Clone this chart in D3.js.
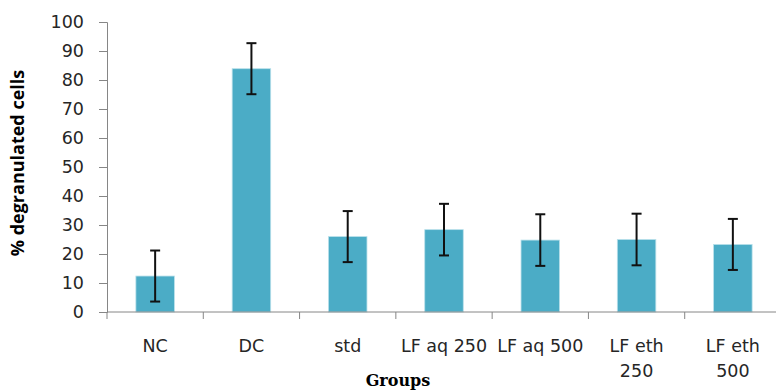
<!DOCTYPE html>
<html>
<head>
<meta charset="utf-8">
<script src="https://cdn.jsdelivr.net/npm/d3@7"></script>
<style>
  body { margin: 0; background: #fff; }
  svg { display: block; }
</style>
</head>
<body>
<div id="chart"></div>
<script>
// Data
const groups = ['NC', 'DC', 'std', 'LF aq 250', 'LF aq 500', 'LF eth 250', 'LF eth 500'];
const tickLabels = [['NC'], ['DC'], ['std'], ['LF aq 250'], ['LF aq 500'], ['LF eth', '250'], ['LF eth', '500']];
const means = [12.4, 83.9, 26.0, 28.4, 24.8, 25.0, 23.3];
const errors = [8.8, 8.8, 8.8, 8.9, 8.9, 8.9, 8.8];
const yTicks = [0, 10, 20, 30, 40, 50, 60, 70, 80, 90, 100];

function drawChart() {
    const width = 776;
    const height = 391;

    const svg = d3.select('#chart')
        .append('svg')
        .attr('width', width)
        .attr('height', height);

    const x = d3.scaleBand()
        .domain(groups)
        .range([107, 781])
        .paddingInner(0.6)
        .paddingOuter(0.3);

    // band step for tick marks between categories
    const step = x.step();

    const y = d3.scaleLinear()
        .domain([0, 100])
        .range([312, 22]);

    const axisColor = '#868686';
    const textColor = '#262626';
    const labelFont = '"DejaVu Sans", sans-serif';

    // Bars
    svg.selectAll('.bar')
        .data(groups)
        .enter()
        .append('rect')
        .attr('class', 'bar')
        .attr('x', d => x(d))
        .attr('width', x.bandwidth())
        .attr('y', (d, i) => y(means[i]))
        .attr('height', (d, i) => y(0) - y(means[i]))
        .attr('fill', '#4BACC6')
        .attr('stroke', '#b9e0ea')
        .attr('stroke-width', 0.8);

    // Error bars
    const eb = svg.selectAll('.err')
        .data(groups)
        .enter()
        .append('g')
        .attr('class', 'err')
        .attr('stroke', '#111')
        .attr('stroke-width', 2);
    const cx = d => x(d) + x.bandwidth() / 2;
    eb.append('line')
        .attr('x1', cx).attr('x2', cx)
        .attr('y1', (d, i) => y(means[i] + errors[i]))
        .attr('y2', (d, i) => y(means[i] - errors[i]));
    eb.append('line')
        .attr('x1', d => cx(d) - 5).attr('x2', d => cx(d) + 5)
        .attr('y1', (d, i) => y(means[i] + errors[i]))
        .attr('y2', (d, i) => y(means[i] + errors[i]));
    eb.append('line')
        .attr('x1', d => cx(d) - 5).attr('x2', d => cx(d) + 5)
        .attr('y1', (d, i) => y(means[i] - errors[i]))
        .attr('y2', (d, i) => y(means[i] - errors[i]));

    // Y axis
    const yAxis = svg.append('g')
        .attr('transform', 'translate(107,0)')
        .call(d3.axisLeft(y).tickValues(yTicks).tickSize(8).tickPadding(15));
    yAxis.select('.domain').attr('stroke', axisColor);
    yAxis.selectAll('.tick line').attr('stroke', axisColor);
    yAxis.selectAll('.tick text')
        .attr('fill', textColor)
        .style('font-family', labelFont)
        .style('font-size', '17.5px');

    // X axis line and tick marks between categories
    svg.append('line')
        .attr('x1', 107).attr('x2', 781)
        .attr('y1', y(0)).attr('y2', y(0))
        .attr('stroke', axisColor);
    svg.selectAll('.xtick')
        .data(d3.range(groups.length + 1))
        .enter()
        .append('line')
        .attr('x1', i => 107 + i * step).attr('x2', i => 107 + i * step)
        .attr('y1', y(0)).attr('y2', y(0) + 7)
        .attr('stroke', axisColor);

    // Category labels
    const labels = svg.selectAll('.xlabel')
        .data(groups)
        .enter()
        .append('text')
        .attr('class', 'xlabel')
        .attr('text-anchor', 'middle')
        .attr('fill', textColor)
        .style('font-family', labelFont)
        .style('font-size', '17.5px');
    labels.each(function(d, i) {
        d3.select(this).selectAll('tspan')
            .data(tickLabels[i])
            .enter()
            .append('tspan')
            .attr('x', cx(d))
            .attr('y', (t, j) => 352 + j * 25)
            .text(t => t);
    });

    // Axis titles
    svg.append('text')
        .attr('transform', 'translate(24,163) rotate(-90)')
        .attr('text-anchor', 'middle')
        .attr('fill', '#000')
        .style('font-family', '"Open Sans", sans-serif')
        .style('font-weight', 'bold')
        .style('font-size', '18px')
        .text('% degranulated cells');

    svg.append('text')
        .attr('x', 398)
        .attr('y', 386)
        .attr('text-anchor', 'middle')
        .attr('fill', '#000')
        .style('font-family', '"DejaVu Serif", serif')
        .style('font-weight', 'bold')
        .style('font-size', '16px')
        .text('Groups');
}

document.addEventListener('DOMContentLoaded', drawChart);
</script>
</body>
</html>
